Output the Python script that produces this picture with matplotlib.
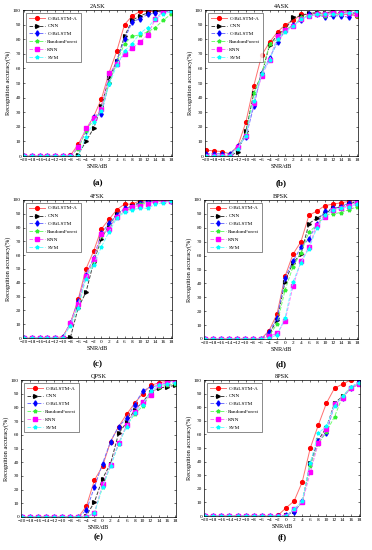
import numpy as np
import matplotlib
matplotlib.use("Agg")
import matplotlib.pyplot as plt

plt.rcParams['font.family'] = ['Liberation Serif', 'DejaVu Serif']

snr = list(range(-20, 20, 2))
methods = ['C-BiLSTM-A', 'CNN', 'C-BiLSTM', 'RandomForest', 'KNN', 'SVM']

zeros = [0] * 10

# 2ASK
ask2_cbilstma = zeros[:6] + [0.5, 8, 18, 27, 39, 57, 72, 90, 96, 99, 99, 99, 100, 100]
ask2_cnn = zeros[:6] + [0, 1, 10, 19, 34, 54, 65, 82, 93, 96, 98, 99, 99, 100]
ask2_cbilstm = zeros[:6] + [0, 6, 17, 27, 29, 50, 65, 80, 92, 94, 97, 98, 99, 99]
ask2_rf = zeros[:6] + [0, 5, 17, 25, 32, 50, 64, 77, 82, 83, 85, 88, 93, 97]
ask2_knn = zeros[:6] + [0, 6, 19, 26, 32, 57, 63, 70, 74, 78, 83, 94, 99, 100]
ask2_svm = zeros[:6] + [0, 0, 13, 23, 31, 49, 62, 72, 77, 84, 88, 94, 97, 99]

# 4ASK
ask4_cbilstma = [4, 3.5, 3, 1.5, 7, 23, 48, 69, 78, 85, 90, 93, 97, 97, 98, 97, 98, 97, 97, 96]
ask4_cnn = [0, 0, 0, 0, 3, 17, 43, 56, 76, 83, 87, 95, 96, 98, 98, 98, 99, 98, 99, 97]
ask4_cbilstm = [1.5, 1.5, 1.5, 1.5, 7, 13, 34, 57, 67, 78, 86, 90, 93, 97, 97, 95, 96, 96, 95, 100]
ask4_rf = [0, 0, 0, 0, 6, 15, 43, 56, 77, 80, 87, 89, 95, 96, 97, 96, 97, 97, 98, 96]
ask4_knn = [0, 0, 0, 0, 6, 14, 36, 55, 66, 82, 86, 89, 94, 96, 97, 97, 98, 98, 98, 97]
ask4_svm = [0, 0, 0, 0, 5, 14, 38, 56, 66, 80, 85, 89, 94, 96, 97, 97, 97, 97, 98, 99]

# 4FSK
fsk4_cbilstma = [0, 0, 0, 0, 0, 1, 11, 28, 50, 63, 79, 86, 93, 97, 97, 99.5, 99.5, 99.5, 99.5, 100]
fsk4_cnn = [0, 0, 0, 0, 0, 0, 0.5, 22, 33, 55, 72, 82, 90, 93, 96, 98, 99, 99, 99, 99]
fsk4_cbilstm = [0, 0, 0, 0, 0, 0.5, 11, 27, 46, 58, 76, 83, 89, 94, 95, 98, 99, 99, 99, 99]
fsk4_rf = [0, 0, 0, 0, 0, 0, 10, 23, 44, 56, 74, 80, 88, 92, 94, 97, 98, 99, 99, 99]
fsk4_knn = [0, 0, 0, 0, 0, 0, 11, 25, 45, 57, 75, 79, 88, 93, 95, 96, 97, 99, 99, 99]
fsk4_svm = [0, 0, 0, 0, 0, 0, 9, 22, 43, 53, 66, 77, 87, 91, 93, 94, 94, 97, 98, 99]

# BPSK
bpsk_cbilstma = zeros[:7] + [0, 6, 18, 45, 61, 70, 89, 92, 96, 97, 98, 99, 100]
bpsk_cnn = zeros[:7] + [0, 3, 14, 41, 55, 61, 83, 87, 90, 94, 95, 97, 99]
bpsk_cbilstm = zeros[:7] + [0, 5, 15, 44, 56, 66, 72, 83, 92, 94, 95, 98, 100]
bpsk_rf = zeros[:7] + [0, 2, 11, 35, 52, 62, 77, 82, 89, 90, 91, 93, 95]
bpsk_knn = zeros[:7] + [0, 2, 4, 13, 38, 56, 66, 82, 88, 93, 94, 96, 98]
bpsk_svm = zeros[:7] + [0, 0.5, 3, 15, 41, 55, 65, 80, 89, 93, 94, 95, 97]

# QPSK
qpsk_cbilstma = zeros[:7] + [0, 8, 27, 37, 55, 66, 75, 83, 90, 96, 98, 99, 100]
qpsk_cnn = zeros[:7] + [0, 1, 11, 28, 39, 61, 69, 78, 84, 91, 94, 95, 96]
qpsk_cbilstm = zeros[:7] + [0, 5, 22, 39, 55, 66, 72, 82, 92, 95, 96, 98, 100]
qpsk_rf = zeros[:7] + [0, 0, 3, 22, 38, 53, 67, 75, 81, 90, 95, 96, 97]
qpsk_knn = zeros[:7] + [0, 0, 3, 24, 38, 54, 67, 77, 84, 89, 96, 98, 99]
qpsk_svm = zeros[:7] + [0, 0, 3, 22, 37, 53, 66, 76, 82, 92, 96, 97, 98]

# 8PSK
psk8_cbilstma = zeros[:8] + [0, 0.5, 6, 11, 25, 50, 67, 83, 94, 97, 100, 100]
psk8_cnn = zeros[:8] + [0, 0, 0.5, 4, 10, 39, 56, 65, 83, 88, 94, 97]
psk8_cbilstm = zeros[:8] + [0, 0, 0.5, 3, 11, 38, 55, 61, 82, 87, 94, 99]
psk8_rf = zeros[:8] + [0, 0, 0, 5, 10, 37, 53, 62, 73, 88, 94, 97]
psk8_knn = zeros[:8] + [0, 0, 0, 5, 10, 32, 54, 64, 82, 87, 94, 97]
psk8_svm = zeros[:8] + [0, 0, 0, 5, 11, 39, 61, 66, 81, 88, 95, 98]

panels = [
    ('2ASK', '(a)', [ask2_cbilstma, ask2_cnn, ask2_cbilstm, ask2_rf, ask2_knn, ask2_svm]),
    ('4ASK', '(b)', [ask4_cbilstma, ask4_cnn, ask4_cbilstm, ask4_rf, ask4_knn, ask4_svm]),
    ('4FSK', '(c)', [fsk4_cbilstma, fsk4_cnn, fsk4_cbilstm, fsk4_rf, fsk4_knn, fsk4_svm]),
    ('BPSK', '(d)', [bpsk_cbilstma, bpsk_cnn, bpsk_cbilstm, bpsk_rf, bpsk_knn, bpsk_svm]),
    ('QPSK', '(e)', [qpsk_cbilstma, qpsk_cnn, qpsk_cbilstm, qpsk_rf, qpsk_knn, qpsk_svm]),
    ('8PSK', '(f)', [psk8_cbilstma, psk8_cnn, psk8_cbilstm, psk8_rf, psk8_knn, psk8_svm]),
]

# style per method: line colour, marker colour, marker, linestyle
styles = [
    ('#ff7070', 'red', 'o', '-'),
    ('#404040', 'black', '>', '--'),
    ('#7070ff', 'blue', 'd', '--'),
    ('#70ff70', '#33ee33', '*', '--'),
    ('#ff70ff', 'magenta', 's', '--'),
    ('#70ffff', 'cyan', '*', '--'),
]

W, H = 372, 550
# axes boxes in pixels: left, top, right, bottom
boxes = [
    (23, 10, 172, 156), (205, 10, 358, 156),
    (23, 200, 172, 338), (204, 200, 358, 339),
    (21, 380, 176, 517), (204, 380, 360, 516),
]
label_y = [183, 183, 364, 364, 537, 537]

fig = plt.figure(figsize=(W / 100, H / 100), dpi=100)

for (title, tag, series), (l, t, r, b), ly in zip(panels, boxes, label_y):
    ax = fig.add_axes([l / W, 1 - b / H, (r - l) / W, (b - t) / H])
    for name, vals, (lc, mc, mk, ls) in zip(methods, series, styles):
        ax.plot(snr, vals, color=lc, linestyle=ls, linewidth=0.7,
                marker=mk, markersize=2.7, markerfacecolor=mc,
                markeredgecolor=mc, label=name)
    ax.set_xlim(-20.3, 18.3)
    ax.set_ylim(0, 100)
    ax.set_xticks(snr)
    ax.set_yticks(range(0, 101, 10))
    ax.tick_params(direction='in', length=1.5, width=0.4, labelsize=3.8,
                   pad=1.5, top=True, right=True)
    for s in ax.spines.values():
        s.set_linewidth(0.5)
    ax.set_title(title, fontsize=4.5, pad=1.5)
    ax.set_xlabel('SNR/dB', fontsize=4.5, labelpad=1.5)
    ax.set_ylabel('Recognition accuracy(%)', fontsize=4.5, labelpad=1.5)
    leg = ax.legend(loc='upper left', fontsize=3.8, frameon=True, fancybox=False,
                    edgecolor='black', handlelength=3.0, labelspacing=0.6,
                    borderpad=0.5, handletextpad=0.5, borderaxespad=0.6)
    leg.get_frame().set_linewidth(0.4)
    fig.text((l + r) / 2 / W, 1 - ly / H, tag, ha='center', va='center',
             fontsize=6.5, fontweight='bold')

fig.savefig('out.png', dpi=100)
